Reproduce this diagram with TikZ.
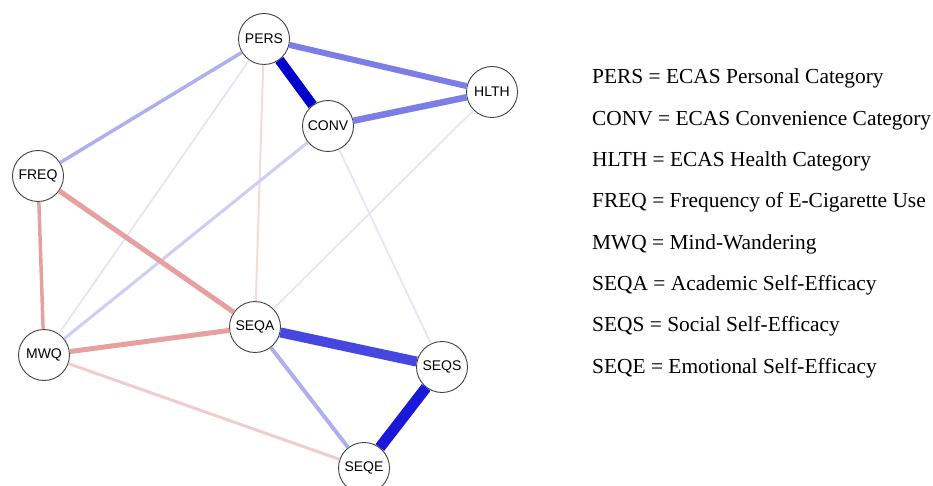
\documentclass[tikz,border=0pt]{standalone}
\usepackage{fontspec}
\setmainfont{Liberation Serif}
\setsansfont{Liberation Sans}

\definecolor{negA}{RGB}{0,0,205}
\definecolor{negB}{RGB}{25,25,215}
\definecolor{negC}{RGB}{70,70,225}
\definecolor{negD}{RGB}{125,125,232}
\definecolor{negE}{RGB}{175,175,240}
\definecolor{negF}{RGB}{205,205,245}
\definecolor{negG}{RGB}{228,228,250}
\definecolor{posA}{RGB}{230,160,160}
\definecolor{posB}{RGB}{240,205,205}
\definecolor{posC}{RGB}{245,218,218}

\tikzset{
  var/.style={circle,draw=black!75,line width=0.9pt,fill=white,minimum size=51pt,inner sep=0pt,
    font=\sffamily\fontsize{14}{15}\selectfont},
  legend/.style={anchor=base west,inner sep=0pt,font=\fontsize{21.4}{24}\selectfont}
}

\begin{document}
\begin{tikzpicture}[x=1pt,y=-1pt]
    \useasboundingbox (0,0) rectangle (933,486);
    % variables
    \node[var] (PERS) at (264,39) {PERS};
    \node[var] (HLTH) at (492,92) {HLTH};
    \node[var] (CONV) at (328,126) {CONV};
    \node[var] (FREQ) at (38,176) {FREQ};
    \node[var] (SEQA) at (255,327) {SEQA};
    \node[var] (MWQ) at (44,355) {MWQ};
    \node[var] (SEQS) at (442,367) {SEQS};
    \node[var] (SEQE) at (364,468) {SEQE};
    % edges
    \draw[negA,line width=10pt] (PERS)--(CONV);
    \draw[negD,line width=6pt] (PERS)--(HLTH);
    \draw[negD,line width=6.5pt] (CONV)--(HLTH);
    \draw[negE,line width=3.5pt] (PERS)--(FREQ);
    \draw[negG,line width=1.8pt] (PERS)--(MWQ);
    \draw[posC,line width=2pt] (PERS)--(SEQA);
    \draw[negF,line width=3pt] (CONV)--(MWQ);
    \draw[negG,line width=1.8pt] (CONV)--(SEQS);
    \draw[negG,line width=1.8pt] (HLTH)--(SEQA);
    \draw[posA,line width=5pt] (FREQ)--(SEQA);
    \draw[posA,line width=3.5pt] (FREQ)--(MWQ);
    \draw[posA,line width=5pt] (MWQ)--(SEQA);
    \draw[posB,line width=3pt] (MWQ)--(SEQE);
    \draw[negC,line width=10pt] (SEQA)--(SEQS);
    \draw[negE,line width=4pt] (SEQA)--(SEQE);
    \draw[negB,line width=11pt] (SEQS)--(SEQE);
    % legend
    \node[legend] (l1) at (592,84) {PERS = ECAS Personal Category};
    \node[legend] (l2) at (592,125.3) {CONV = ECAS Convenience Category};
    \node[legend] (l3) at (592,166.6) {HLTH = ECAS Health Category};
    \node[legend] (l4) at (592,207.9) {FREQ = Frequency of E-Cigarette Use};
    \node[legend] (l5) at (592,249.2) {MWQ = Mind-Wandering};
    \node[legend] (l6) at (592,290.5) {SEQA = Academic Self-Efficacy};
    \node[legend] (l7) at (592,331.8) {SEQS = Social Self-Efficacy};
    \node[legend] (l8) at (592,373) {SEQE = Emotional Self-Efficacy};
\end{tikzpicture}
\end{document}
